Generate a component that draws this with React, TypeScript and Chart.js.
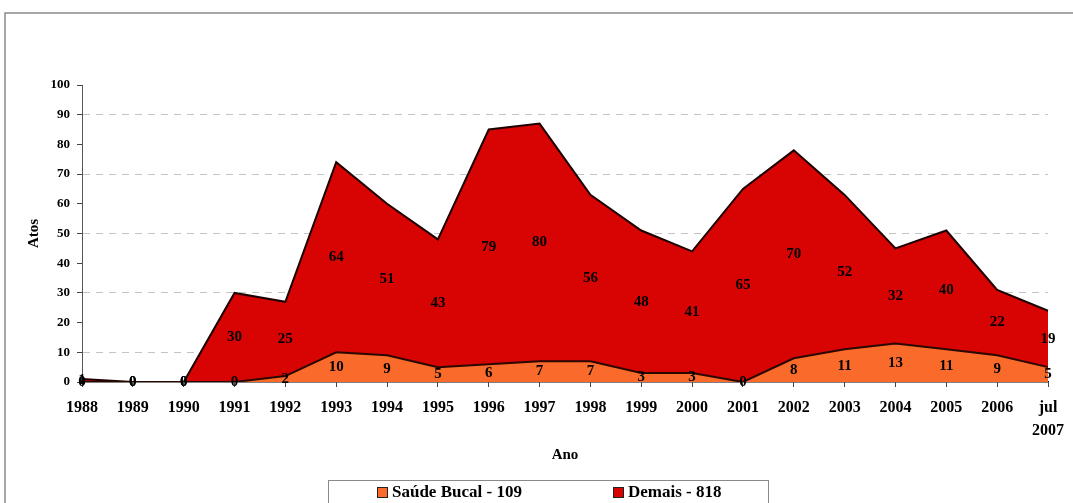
import React, { useEffect, useRef } from 'react';
import { Chart, registerables } from 'chart.js';

Chart.register(...registerables);

const FONT = "'Liberation Serif', 'Times New Roman', serif";

const years: (string | string[])[] = [
  '1988', '1989', '1990', '1991', '1992', '1993', '1994', '1995', '1996', '1997',
  '1998', '1999', '2000', '2001', '2002', '2003', '2004', '2005', '2006', ['jul', '2007'],
];
const saudeBucal = [0, 0, 0, 0, 2, 10, 9, 5, 6, 7, 7, 3, 3, 0, 8, 11, 13, 11, 9, 5];
const demais = [1, 0, 0, 30, 25, 64, 51, 43, 79, 80, 56, 48, 41, 65, 70, 52, 32, 40, 22, 19];
const seriesNames = ['Saúde Bucal', 'Demais'];
const seriesColors = ['#FA6A2A', '#D80303'];
const yMin = 0;
const yMax = 100;
const yStep = 10;
const xTitle = 'Ano';
const yTitle = 'Atos';

const sum = (a: number[]) => a.reduce((s, v) => s + v, 0);

const segLabels = {
  id: 'segLabels',
  afterDatasetsDraw(chart: any) {
    const { ctx } = chart;
    const y = chart.scales.y;
    ctx.save();
    ctx.font = `bold 15px ${FONT}`;
    ctx.fillStyle = '#000';
    ctx.textAlign = 'center';
    ctx.textBaseline = 'middle';
    chart.data.datasets.forEach((ds: any, di: number) => {
      const meta = chart.getDatasetMeta(di);
      meta.data.forEach((pt: any, i: number) => {
        let base = 0;
        for (let k = 0; k < di; k++) base += chart.data.datasets[k].data[i];
        const v = ds.data[i];
        ctx.fillText(String(v), pt.x, y.getPixelForValue(base + v / 2));
      });
    });
    ctx.restore();
  },
};

const frameAndLegend = {
  id: 'frameAndLegend',
  afterDraw(chart: any) {
    const { ctx } = chart;
    ctx.save();
    ctx.strokeStyle = '#8a8a8a';
    ctx.lineWidth = 1.5;
    ctx.beginPath();
    ctx.moveTo(5, 520);
    ctx.lineTo(5, 13);
    ctx.lineTo(1080, 13);
    ctx.stroke();

    ctx.strokeStyle = '#8a8a8a';
    ctx.lineWidth = 1;
    ctx.strokeRect(328.5, 480.5, 440, 40);
    const items = [
      { x: 377, name: seriesNames[0], color: seriesColors[0], total: sum(saudeBucal) },
      { x: 613, name: seriesNames[1], color: seriesColors[1], total: sum(demais) },
    ];
    ctx.font = `bold 17px ${FONT}`;
    ctx.textBaseline = 'middle';
    ctx.textAlign = 'left';
    items.forEach((it) => {
      ctx.fillStyle = it.color;
      ctx.fillRect(it.x, 487, 11, 11);
      ctx.strokeStyle = '#222';
      ctx.strokeRect(it.x + 0.5, 487.5, 10, 10);
      ctx.fillStyle = '#000';
      ctx.fillText(`${it.name} - ${it.total}`, it.x + 15, 493);
    });
    ctx.restore();
  },
};

export default function App() {
  const ref = useRef<HTMLCanvasElement>(null);
  useEffect(() => {
    if (!ref.current) return;
    const chart = new Chart(ref.current, {
      type: 'line',
      data: {
        labels: years as any,
        datasets: [
          {
            label: seriesNames[0],
            data: saudeBucal,
            backgroundColor: seriesColors[0],
            borderColor: '#2a0800',
            borderWidth: 2,
            fill: 'origin',
            pointRadius: 0,
            tension: 0,
          },
          {
            label: seriesNames[1],
            data: demais,
            backgroundColor: seriesColors[1],
            borderColor: '#1e0000',
            borderWidth: 2,
            fill: '-1',
            pointRadius: 0,
            tension: 0,
          },
        ],
      },
      options: {
        responsive: false,
        devicePixelRatio: 1,
        animation: false,
        layout: { padding: { left: 0, right: 20, top: 85, bottom: 0 } },
        plugins: { legend: { display: false }, tooltip: { enabled: false } },
        scales: {
          x: {
            type: 'category',
            offset: false,
            afterFit: (s: any) => { s.height = 121; },
            grid: { drawOnChartArea: false, drawTicks: true, tickLength: 5, tickColor: '#444' },
            border: { color: '#000', width: 1.5 },
            ticks: {
              autoSkip: false,
              maxRotation: 0,
              color: '#000',
              padding: 9,
              font: { family: FONT, size: 16, weight: 'bold', lineHeight: 1.45 },
            },
            title: {
              display: true,
              text: xTitle,
              color: '#000',
              font: { family: FONT, size: 15, weight: 'bold' },
              padding: { top: 0, bottom: 39 },
            },
          },
          y: {
            stacked: true,
            min: yMin,
            max: yMax,
            afterFit: (s: any) => { s.width = 82; },
            grid: {
              color: (c: any) => (c.tick && c.tick.value % 20 === 10 ? '#c4c4c4' : 'rgba(0,0,0,0)'),
              lineWidth: 1,
              tickColor: '#444',
              tickLength: 5,
            },
            border: { color: '#555', width: 1, dash: [7, 6] },
            ticks: {
              stepSize: yStep,
              color: '#000',
              padding: 7,
              font: { family: FONT, size: 13, weight: 'bold' },
            },
            title: {
              display: true,
              text: yTitle,
              color: '#000',
              font: { family: FONT, size: 15, weight: 'bold' },
              padding: { top: 25, bottom: 0 },
            },
          },
        },
      } as any,
      plugins: [segLabels, frameAndLegend],
    });
    return () => chart.destroy();
  }, []);
  return (
    <div style={{ position: 'absolute', left: 0, top: 0, width: 1073, height: 503, background: '#fff' }}>
      <canvas ref={ref} width={1073} height={503} />
    </div>
  );
}
